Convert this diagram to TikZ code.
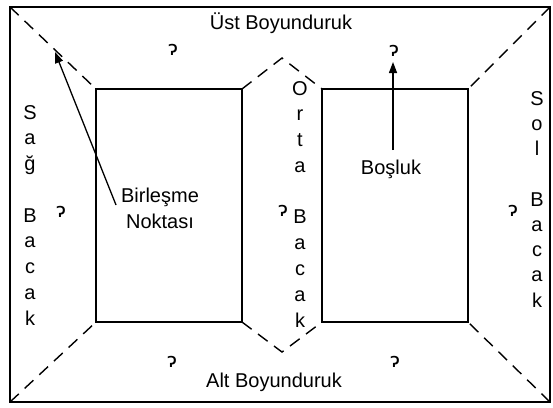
\documentclass[tikz,border=0pt]{standalone}
\usepackage{fontspec}
\setmainfont{Liberation Sans}
\newfontfamily\symfont{DejaVu Sans}
\usetikzlibrary{arrows.meta}
\begin{document}
\begin{tikzpicture}[x=1pt,y=-1pt,
  frame/.style={line width=2.6pt},
  core/.style={line width=2.6pt},
  joint/.style={line width=1.4pt,dash pattern=on 12pt off 8pt},
  lbl/.style={inner sep=0pt,font=\fontsize{20}{22}\selectfont},
  letter/.style={inner sep=0pt,anchor=base,font=\fontsize{20}{22}\selectfont},
  flux/.style={inner sep=0pt,font=\symfont\fontsize{20}{22}\selectfont},
  pointer/.style={line width=1.3pt,-{Triangle[length=11pt,width=8pt]}}]
\useasboundingbox (0,0) rectangle (553,407);
% outer frame
\draw[frame] (10,7) rectangle (550,402);
% windows
\draw[core] (96,89) rectangle (242,322);
\draw[core] (322,89) rectangle (468,322);
% joints
\draw[joint] (10,7) -- (96,89);
\draw[joint] (550,7) -- (468,89);
\draw[joint] (10,402) -- (96,322);
\draw[joint] (550,402) -- (468,322);
\draw[joint] (242,89) -- (282,58) -- (322,89);
\draw[joint] (242,322) -- (282,352) -- (322,322);
% labels
\node[lbl] (ust) at (281,23) {Üst Boyunduruk};
\node[lbl] (alt) at (274,382) {Alt Boyunduruk};
\foreach \ch [count=\i] in {S,a,ğ,{},B,a,c,a,k}
  \node[letter] (sag\i) at (30,{119+25.75*(\i-1)}) {\ch};
\foreach \ch [count=\i] in {O,r,t,a,{},B,a,c,a,k}
  \node[letter] (orta\i) at (300,{95+25.78*(\i-1)}) {\ch};
\foreach \ch [count=\i] in {S,o,l,{},B,a,c,a,k}
  \node[letter] (sol\i) at (537,{105+25.25*(\i-1)}) {\ch};
% flux symbols
\node[flux] (f1) at (173,50) {ɂ};
\node[flux] (f2) at (394,51) {ɂ};
\node[flux] (f3) at (61,212) {ɂ};
\node[flux] (f4) at (283,211) {ɂ};
\node[flux] (f5) at (513,211) {ɂ};
\node[flux] (f6) at (172,362) {ɂ};
\node[flux] (f7) at (395,362) {ɂ};
% callouts
\node[lbl,align=center] (birl) at (160,208) {Birleşme\\[4pt]Noktası};
\coordinate (btail) at (116,205);
\coordinate (bjoin) at (55,52);
\draw[pointer] (btail) -- (bjoin);
\node[lbl] (bos) at (391,169) {Boşluk};
\coordinate (stail) at (393,150);
\coordinate (sgap) at (393,62);
\draw[pointer] (stail) -- (sgap);
\end{tikzpicture}
\end{document}
